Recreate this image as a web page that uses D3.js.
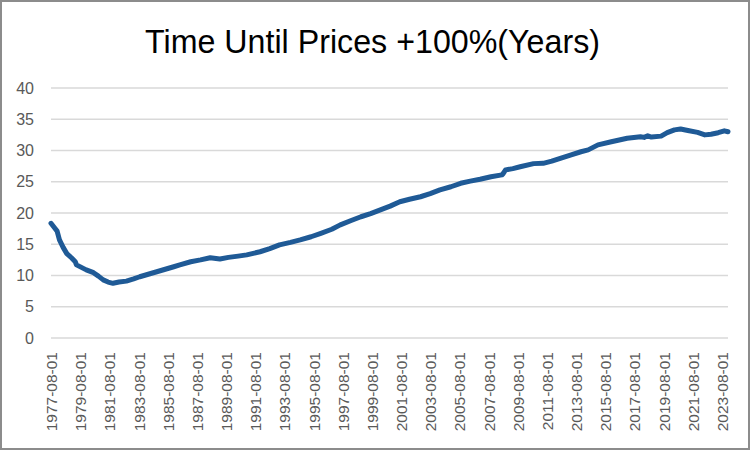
<!DOCTYPE html>
<html>
<head>
<meta charset="utf-8">
<script src="https://cdn.jsdelivr.net/npm/d3@7"></script>
<style>
  html, body { margin: 0; padding: 0; background: #fff; }
  svg { display: block; }
</style>
</head>
<body>
<script>
// ---- data ----
const dates = [
  "1977-08","1977-11","1978-01","1978-03","1978-06","1978-09","1979-01","1979-04","1979-05","1979-09",
  "1980-01","1980-07","1980-11","1981-03","1981-07","1981-11","1982-04","1982-10","1983-04","1983-09",
  "1984-04","1984-11","1985-06","1986-01","1986-06","1987-03","1987-11","1988-07","1989-03","1989-10",
  "1990-06","1991-01","1991-12","1992-08","1993-04","1994-01","1994-09","1995-06","1996-02","1996-11",
  "1997-06","1998-03","1998-11","1999-07","2000-03","2000-11","2001-07","2002-03","2002-12","2003-08",
  "2004-04","2005-01","2005-09","2006-05","2007-01","2007-10","2008-07","2008-08","2008-10","2009-04",
  "2009-10","2010-09","2011-05","2011-12","2012-07","2013-04","2013-12","2014-06","2015-02","2016-01",
  "2017-02","2018-01","2018-04","2018-07","2018-10","2019-06","2019-11","2020-05","2020-10","2021-04",
  "2021-12","2022-06","2022-11","2023-05","2023-10","2024-01"
];
const years = [
  18.35,17.6,17.1,15.7,14.5,13.5,12.8,12.2,11.7,11.3,
  10.9,10.45,9.9,9.3,8.95,8.75,8.95,9.1,9.45,9.8,
  10.2,10.6,11.0,11.4,11.7,12.2,12.5,12.85,12.65,12.9,
  13.1,13.3,13.8,14.3,14.9,15.3,15.7,16.2,16.75,17.4,
  18.1,18.8,19.4,19.9,20.5,21.1,21.8,22.2,22.6,23.1,
  23.7,24.2,24.75,25.1,25.4,25.8,26.1,26.3,26.9,27.1,
  27.4,27.9,27.95,28.3,28.75,29.3,29.8,30.1,30.9,31.4,
  31.95,32.2,32.1,32.35,32.15,32.3,32.85,33.3,33.45,33.2,
  32.9,32.5,32.6,32.85,33.15,33.0
];
const xTickLabels = [
  "1977-08-01","1979-08-01","1981-08-01","1983-08-01","1985-08-01","1987-08-01",
  "1989-08-01","1991-08-01","1993-08-01","1995-08-01","1997-08-01","1999-08-01",
  "2001-08-01","2003-08-01","2005-08-01","2007-08-01","2009-08-01","2011-08-01",
  "2013-08-01","2015-08-01","2017-08-01","2019-08-01","2021-08-01","2023-08-01"
];
const yTicks = [0, 5, 10, 15, 20, 25, 30, 35, 40];
const titleText = "Time Until Prices +100%(Years)";

// ---- drawing ----
const W = 752, H = 452;
const svg = d3.select("body").append("svg").attr("width", W).attr("height", H);

svg.append("rect").attr("x", 0).attr("y", 0).attr("width", W).attr("height", H).attr("fill", "#fff");
svg.append("rect").attr("x", 1).attr("y", 1).attr("width", 748).attr("height", 448)
  .attr("fill", "none").attr("stroke", "#8c8c8c").attr("stroke-width", 2);

const parseM = d3.timeParse("%Y-%m");
const parseD = d3.timeParse("%Y-%m-%d");
const data = dates.map((d, i) => ({ date: parseM(d), v: years[i] }));

const x = d3.scaleTime()
  .domain([parseM(dates[0]), parseM(dates[dates.length - 1])])
  .range([51, 728]);
const y = d3.scaleLinear().domain([0, 40]).range([338, 88]);

// gridlines
svg.append("g").selectAll("line").data(yTicks).join("line")
  .attr("x1", 51).attr("x2", 728)
  .attr("y1", d => y(d)).attr("y2", d => y(d))
  .attr("stroke", "#d9d9d9").attr("stroke-width", 1.3);

// y axis labels
const yAxis = d3.axisLeft(y).tickValues(yTicks).tickSize(0).tickPadding(0);
const yg = svg.append("g").attr("transform", "translate(34,0)").call(yAxis);
yg.select(".domain").remove();
yg.selectAll("text")
  .attr("font-family", "'Liberation Sans', Arial, sans-serif")
  .attr("font-size", 16).attr("fill", "#595959");

// x axis labels
const xAxis = d3.axisBottom(x)
  .tickValues(xTickLabels.map(parseD))
  .tickFormat(d3.timeFormat("%Y-%m-%d"))
  .tickSize(0).tickPadding(0);
const xg = svg.append("g").attr("transform", "translate(0,352)").call(xAxis);
xg.select(".domain").remove();
xg.selectAll("text")
  .attr("font-family", "'Liberation Sans', Arial, sans-serif")
  .attr("font-size", 15.5).attr("fill", "#595959")
  .attr("text-anchor", "end")
  .attr("transform", "rotate(-90)")
  .attr("x", 0).attr("y", 0).attr("dy", "0.36em");

// line
const line = d3.line().x(d => x(d.date)).y(d => y(d.v)).curve(d3.curveLinear);
svg.append("path").datum(data)
  .attr("d", line)
  .attr("fill", "none")
  .attr("stroke", "#1f5a96")
  .attr("stroke-width", 5)
  .attr("stroke-linejoin", "round")
  .attr("stroke-linecap", "round");

// title
svg.append("text")
  .attr("x", 372.5).attr("y", 53)
  .attr("text-anchor", "middle")
  .attr("font-family", "'Liberation Sans Narrow', 'Liberation Sans', Arial, sans-serif")
  .attr("font-size", 33)
  .attr("fill", "#000")
  .attr("textLength", 455)
  .attr("lengthAdjust", "spacingAndGlyphs")
  .text(titleText);
</script>
</body>
</html>
